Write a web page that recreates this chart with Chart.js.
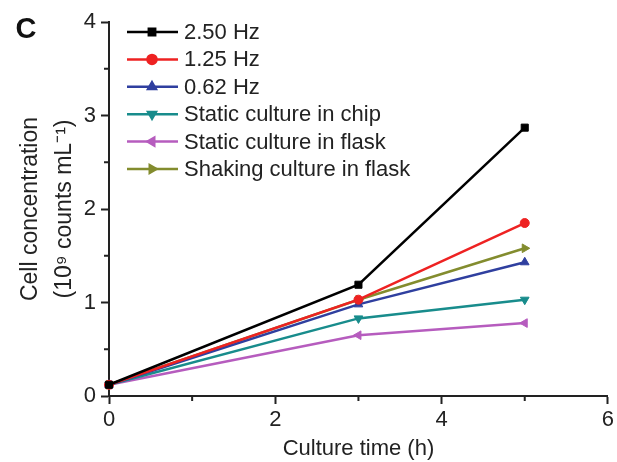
<!DOCTYPE html>
<html>
<head>
<meta charset="utf-8">
<script src="https://cdn.jsdelivr.net/npm/chart.js@4/dist/chart.umd.min.js"></script>
<style>
  html, body { margin: 0; padding: 0; background: #fff; }
  #wrap { width: 617px; height: 462px; position: relative; }
</style>
</head>
<body>
<div id="wrap"><canvas id="chart"></canvas></div>
<script>
// culture time (h)
const times = [0, 3, 5];
// cell concentration (10^9 counts/mL)
const hz250 = [0.12, 1.19, 2.87];
const hz125 = [0.12, 1.03, 1.85];
const hz062 = [0.12, 0.98, 1.43];
const staticChip = [0.12, 0.83, 1.03];
const staticFlask = [0.12, 0.65, 0.78];
const shakingFlask = [0.12, 1.03, 1.58];

const seriesNames = ['2.50 Hz', '1.25 Hz', '0.62 Hz', 'Static culture in chip', 'Static culture in flask', 'Shaking culture in flask'];
const seriesData = [hz250, hz125, hz062, staticChip, staticFlask, shakingFlask];
const colors = ['#000000', '#ee2222', '#2f3f9f', '#188c8c', '#b65cbe', '#838c2e'];
const markers = ['rect', 'circle', 'triangle', 'triangle', 'triangle', 'triangle'];
const rotations = [0, 0, 0, 180, 270, 90];

const xMinorTicks = [1, 3, 5];
const yMinorTicks = [0.5, 1.5, 2.5, 3.5];

const FONT = '"Liberation Sans", Arial, sans-serif';
const INK = '#222';

const datasets = seriesData.map((vals, i) => ({
  label: seriesNames[i],
  data: vals.map((v, j) => ({ x: times[j], y: v })),
  borderColor: colors[i],
  backgroundColor: colors[i],
  borderWidth: 2.5,
  pointStyle: markers[i],
  rotation: rotations[i],
  pointRadius: markers[i] === 'circle' ? 4.5 : 5,
  pointBorderWidth: 1,
  pointHoverRadius: 5,
  tension: 0,
  clip: false
}));

// short outward minor ticks, like the original plot
const minorTicks = {
  id: 'minorTicks',
  afterDraw(chart) {
    const ctx = chart.ctx;
    const xs = chart.scales.x, ys = chart.scales.y;
    ctx.save();
    ctx.strokeStyle = INK;
    ctx.lineWidth = 2;
    ctx.beginPath();
    xMinorTicks.forEach(v => {
      const px = xs.getPixelForValue(v);
      ctx.moveTo(px, ys.bottom);
      ctx.lineTo(px, ys.bottom + 5);
    });
    yMinorTicks.forEach(v => {
      const py = ys.getPixelForValue(v);
      ctx.moveTo(xs.left, py);
      ctx.lineTo(xs.left - 5, py);
    });
    ctx.stroke();
    ctx.restore();
  }
};

// legend inside the plot, line + marker like Origin does it
const innerLegend = {
  id: 'innerLegend',
  afterDraw(chart) {
    const ctx = chart.ctx;
    const x0 = chart.chartArea.left + 18;
    let y = chart.chartArea.top + 10;
    ctx.save();
    ctx.font = '22px ' + FONT;
    ctx.textBaseline = 'middle';
    chart.data.datasets.forEach(ds => {
      ctx.strokeStyle = ds.borderColor;
      ctx.lineWidth = 2.5;
      ctx.beginPath();
      ctx.moveTo(x0, y);
      ctx.lineTo(x0 + 51, y);
      ctx.stroke();
      ctx.fillStyle = ds.backgroundColor;
      Chart.helpers.drawPoint(ctx, {
        pointStyle: ds.pointStyle,
        rotation: ds.rotation,
        radius: 4.5,
        borderWidth: 1
      }, x0 + 25, y);
      ctx.fillStyle = INK;
      ctx.fillText(ds.label, x0 + 57, y + 1);
      y += 27.4;
    });
    ctx.restore();
  }
};

// panel letter
const panelLetter = {
  id: 'panelLetter',
  afterDraw(chart) {
    const ctx = chart.ctx;
    ctx.save();
    ctx.font = 'bold 29px ' + FONT;
    ctx.fillStyle = '#111';
    ctx.textAlign = 'center';
    ctx.textBaseline = 'alphabetic';
    ctx.fillText('C', 26, 38);
    ctx.restore();
  }
};

new Chart(document.getElementById('chart'), {
  type: 'line',
  data: { datasets },
  options: {
    responsive: true,
    maintainAspectRatio: false,
    animation: false,
    events: [],
    layout: { padding: { top: 22, right: 7, left: 0, bottom: 0 } },
    plugins: {
      legend: { display: false },
      tooltip: { enabled: false }
    },
    scales: {
      x: {
        type: 'linear',
        min: 0,
        max: 6,
        ticks: { stepSize: 2, color: INK, font: { size: 22, family: FONT }, padding: 3, maxRotation: 0 },
        grid: { drawOnChartArea: false, drawTicks: true, tickLength: 8, tickWidth: 2, tickColor: INK },
        border: { display: true, color: INK, width: 2 },
        title: { display: true, text: 'Culture time (h)', color: INK, font: { size: 22, family: FONT }, padding: { top: 0, bottom: 0 } },
        afterFit(s) { s.height = 66; }
      },
      y: {
        min: 0,
        max: 4,
        ticks: { stepSize: 1, color: INK, font: { size: 22, family: FONT }, padding: 5 },
        grid: { drawOnChartArea: false, drawTicks: true, tickLength: 8, tickWidth: 2, tickColor: INK },
        border: { display: true, color: INK, width: 2 },
        title: {
          display: true,
          text: ['Cell concentration', '(10\u2079 counts mL\u207B\u00B9)'],
          color: INK,
          font: { size: 23, family: FONT, lineHeight: 1.5 },
          padding: { top: 13, bottom: 0 }
        },
        afterFit(s) { s.width = 109; }
      }
    }
  },
  plugins: [minorTicks, innerLegend, panelLetter]
});
</script>
</body>
</html>
